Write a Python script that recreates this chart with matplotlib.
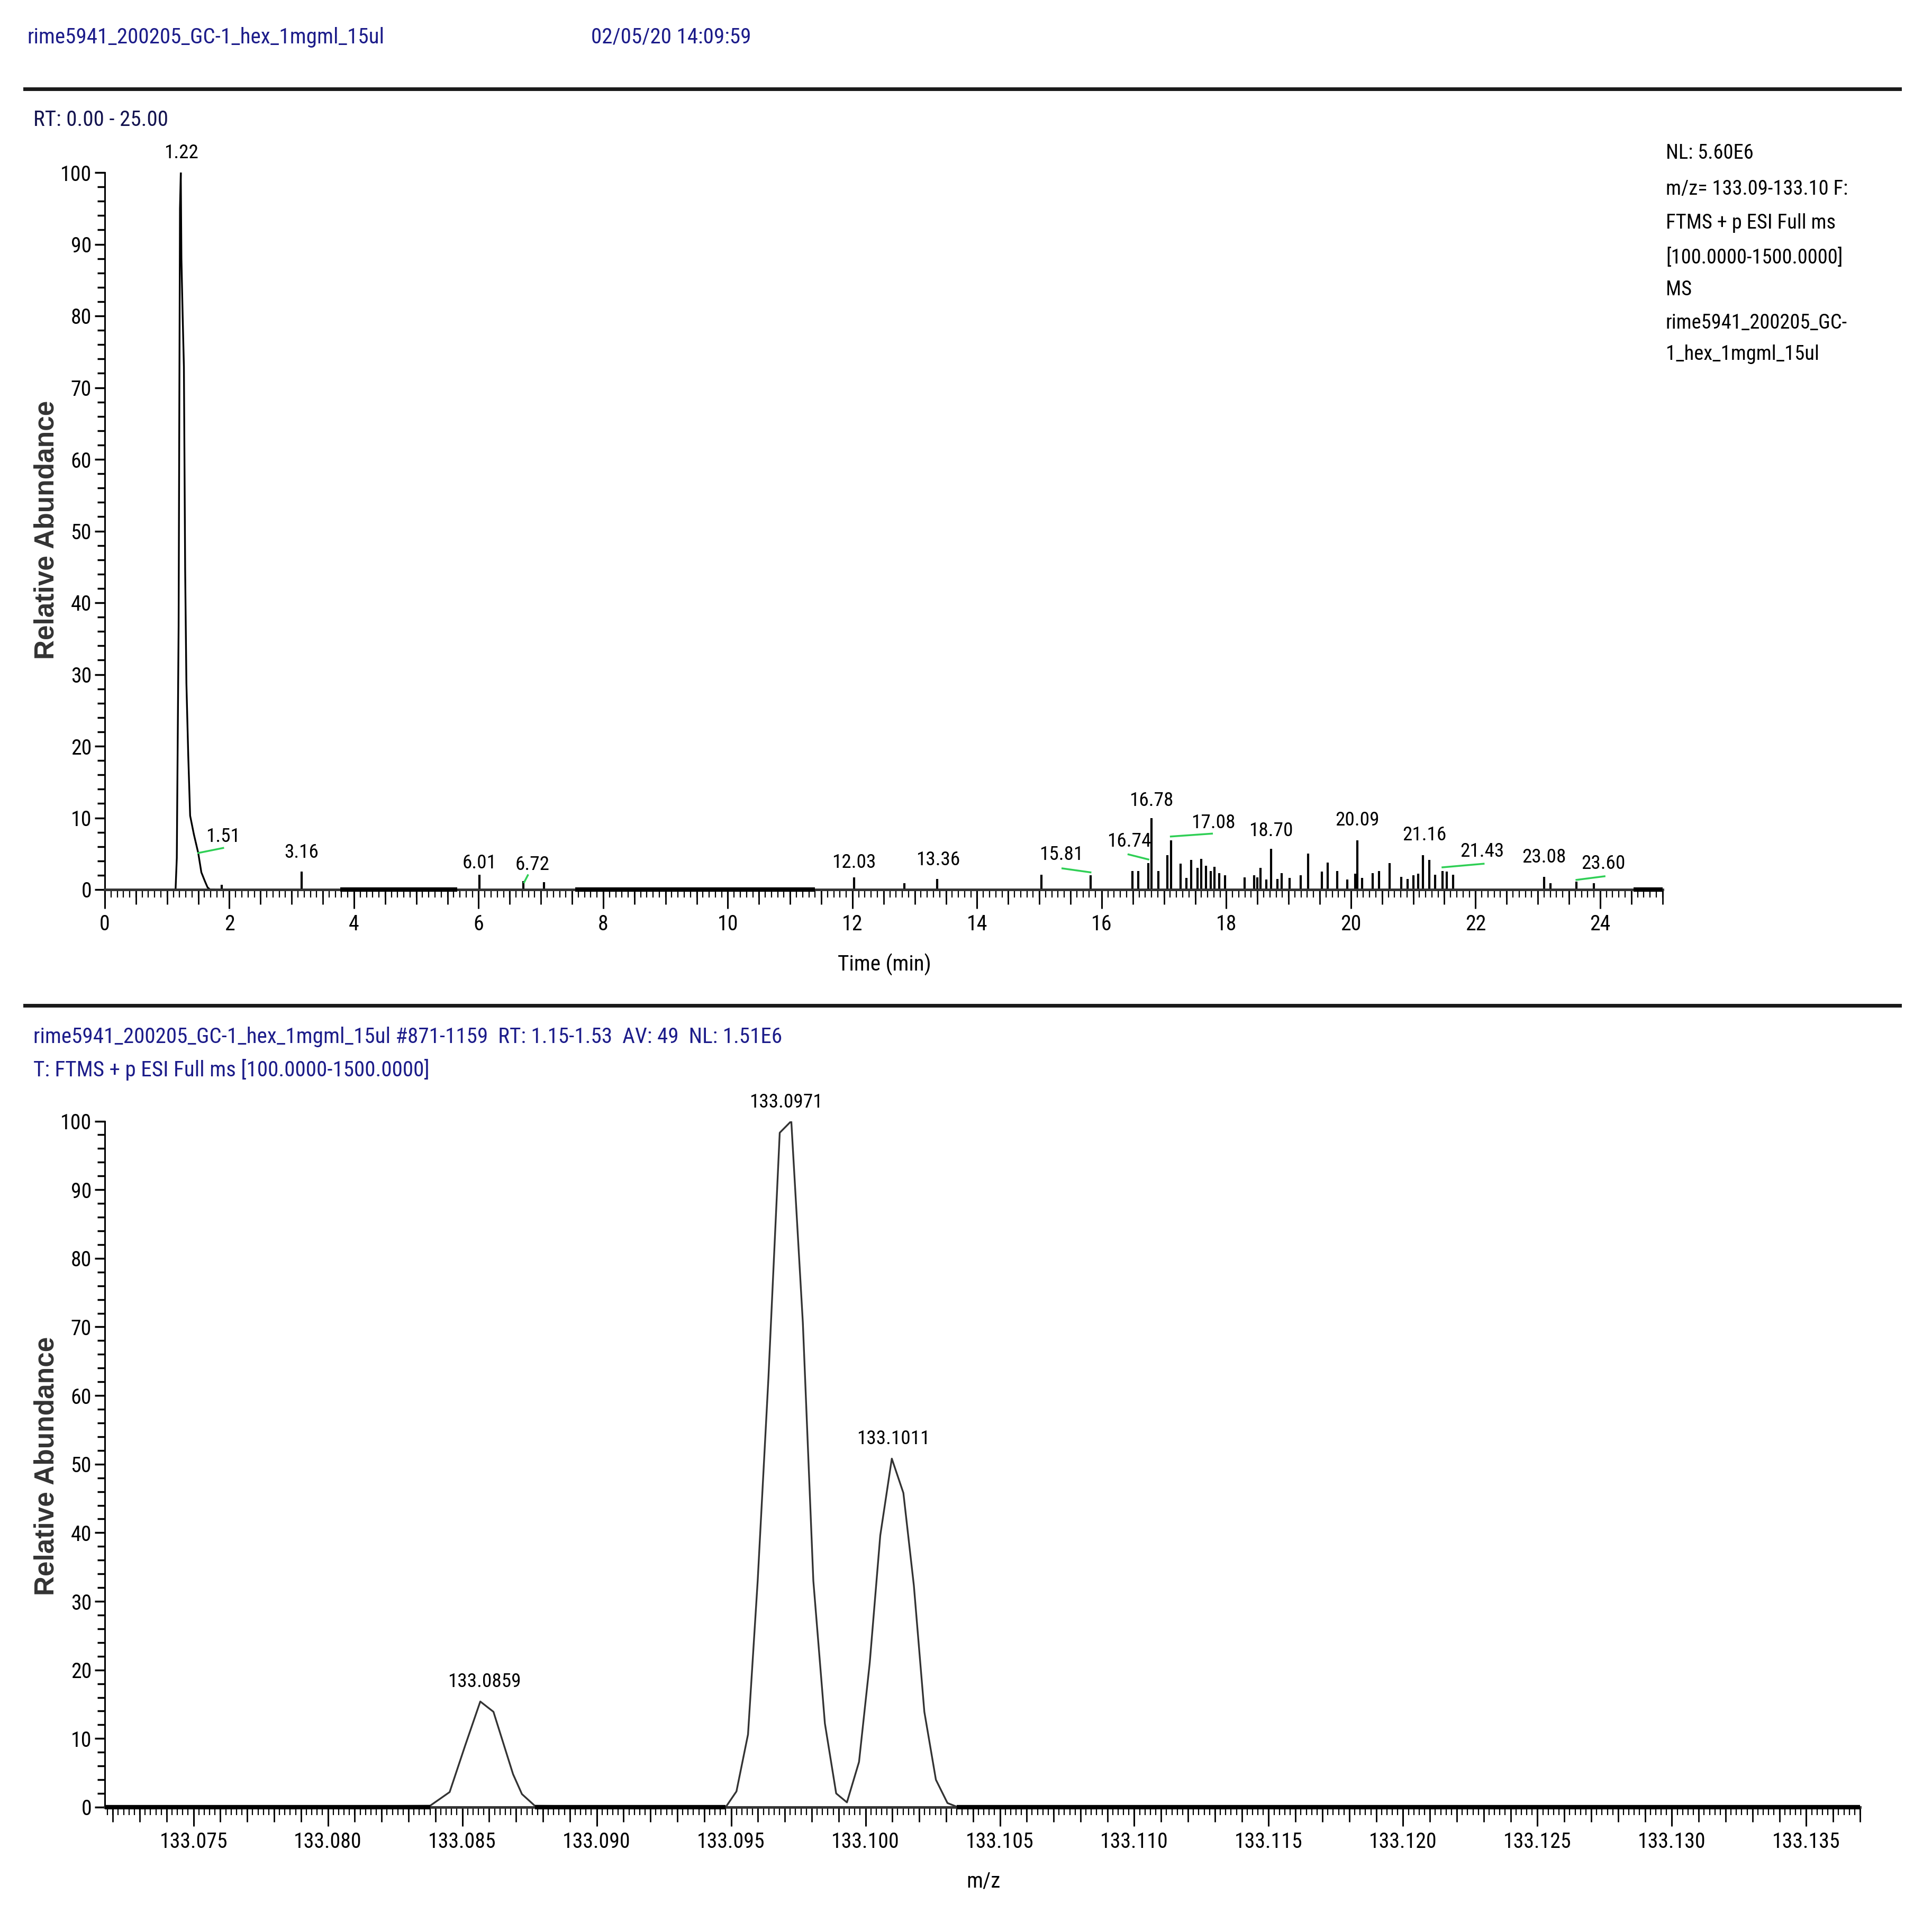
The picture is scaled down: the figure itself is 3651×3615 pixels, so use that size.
import matplotlib
matplotlib.use('Agg')
import matplotlib.pyplot as plt
from matplotlib import font_manager as fm
from matplotlib.lines import Line2D
from matplotlib.ticker import MultipleLocator, NullLocator, FormatStrFormatter

# pick a narrow face if one is installed, else plain Liberation Sans
cond = None
for name in ['Liberation Sans Narrow', 'Roboto Condensed', 'Open Sans Condensed',
             'Noto Sans', 'Roboto', 'Open Sans', 'Lato', 'Inter']:
    if any(f.name == name and f.stretch == 'condensed' for f in fm.fontManager.ttflist):
        cond = name
        break
if cond:
    plt.rcParams['font.family'] = [cond, 'Liberation Sans', 'DejaVu Sans']
    plt.rcParams['font.stretch'] = 'condensed'
else:
    plt.rcParams['font.family'] = ['Liberation Sans', 'DejaVu Sans']

# ---- chromatogram (top) ----
# main peak profile
rt_main = [1.10, 1.136, 1.156, 1.185, 1.207, 1.22, 1.23, 1.25, 1.27, 1.29, 1.31,
           1.34, 1.37, 1.43, 1.50, 1.55, 1.61, 1.65, 1.69, 1.75]
ab_main = [0, 0, 4.4, 36.7, 95, 100, 88, 80, 72.9, 44.6, 28.8,
           18.6, 10.3, 7.7, 5.1, 2.4, 1.1, 0.3, 0, 0]

# small spikes (retention time, relative abundance)
spike_rt = [1.88, 3.16, 6.01, 6.72, 7.05, 12.03, 12.83, 13.36, 15.03, 15.82,
            16.49, 16.59, 16.75, 16.80, 16.91, 17.05, 17.11, 17.27, 17.36, 17.44,
            17.54, 17.60, 17.67, 17.75, 17.81, 17.89, 17.98, 18.29, 18.45, 18.50,
            18.55, 18.64, 18.72, 18.82, 18.89, 19.02, 19.19, 19.31, 19.53, 19.63,
            19.78, 19.94, 20.07, 20.10, 20.18, 20.35, 20.45, 20.62, 20.81, 20.91,
            21.00, 21.08, 21.16, 21.26, 21.35, 21.47, 21.54, 21.64, 23.10, 23.20,
            23.62, 23.90]
spike_ab = [0.7, 2.5, 2.1, 1.2, 1.0, 1.7, 0.9, 1.5, 2.1, 2.0,
            2.6, 2.6, 3.7, 10.0, 2.6, 4.8, 6.9, 3.6, 1.6, 4.1,
            3.0, 4.3, 3.3, 2.6, 3.2, 2.3, 2.0, 1.7, 2.0, 1.7,
            3.0, 1.4, 5.7, 1.5, 2.3, 1.6, 2.0, 5.0, 2.5, 3.8,
            2.6, 1.4, 2.2, 6.9, 1.6, 2.3, 2.6, 3.7, 1.8, 1.5,
            2.0, 2.2, 4.8, 4.1, 2.1, 2.6, 2.5, 2.1, 1.8, 0.9,
            1.1, 0.9]

# dense noisy baseline stretches
base_start = [3.78, 7.55, 24.54]
base_end = [5.66, 11.40, 25.00]

# peak labels
rt_labels = ['1.22', '1.51', '3.16', '6.01', '6.72', '12.03', '13.36', '15.81', '16.74',
             '16.78', '17.08', '18.70', '20.09', '21.16', '21.43', '23.08', '23.60']
rt_label_x = [1.23, 1.90, 3.16, 6.01, 6.86, 12.02, 13.37, 15.35, 16.44,
              16.80, 17.79, 18.72, 20.10, 21.18, 22.11, 23.10, 24.05]
rt_label_y = [102.7, 7.4, 5.2, 3.7, 3.5, 3.8, 4.1, 4.9, 6.7,
              12.4, 9.3, 8.2, 9.7, 7.6, 5.3, 4.5, 3.6]

# green leader lines (from peak to label)
lead_x0 = [1.50, 6.73, 15.82, 16.75, 17.11, 21.47, 23.62]
lead_y0 = [5.1, 1.0, 2.4, 4.2, 7.4, 3.1, 1.35]
lead_x1 = [1.90, 6.79, 15.37, 16.43, 17.77, 22.13, 24.07]
lead_y1 = [5.8, 2.0, 2.95, 4.9, 7.8, 3.6, 1.85]

# ---- mass spectrum (bottom) ----
mz = [133.0717, 133.0838, 133.08453, 133.08510, 133.08567, 133.08616, 133.08689,
      133.08722, 133.0877, 133.0948, 133.09520, 133.09563, 133.09599, 133.09639,
      133.09681, 133.09724, 133.09767, 133.09806, 133.09849, 133.09891, 133.09931,
      133.09976, 133.10016, 133.10055, 133.10098, 133.10141, 133.10180, 133.10219,
      133.10262, 133.10305, 133.10344, 133.1370]
mz_ab = [0, 0.2, 2.2, 8.9, 15.4, 13.9, 4.8,
         1.9, 0.2, 0, 2.3, 10.6, 33.0, 62.6,
         98.3, 100, 70.6, 33.0, 12.2, 2.0, 0.7,
         6.6, 21.1, 39.6, 50.8, 45.8, 32.3, 13.9,
         4.0, 0.6, 0, 0]
mz_base_start = [133.0717, 133.0877, 133.1034]
mz_base_end = [133.0838, 133.0948, 133.1370]

mz_labels = ['133.0859', '133.0971', '133.1011']
mz_label_x = [133.08582, 133.09704, 133.10103]
mz_label_y = [18.3, 102.7, 53.7]

W, H = 3651, 3615
fig = plt.figure(figsize=(W / 100, H / 100), dpi=100)


def fx(px):
    return px / W


def fy(py):
    return 1 - py / H


HEAD_TXT = 'rime5941_200205_GC-1_hex_1mgml_15ul'

# scale font sizes so the header is as wide as in the reference (677 px)
probe = fig.text(0, 0, HEAD_TXT, fontsize=32)
s = 677 / probe.get_window_extent(renderer=fig.canvas.get_renderer()).width
probe.remove()

HEAD = '#1c1c8a'
GREEN = '#2fcf55'

# header
fig.text(fx(51), fy(70), HEAD_TXT, color=HEAD, fontsize=32 * s, va='center', ha='left')
fig.text(fx(1117), fy(70), '02/05/20 14:09:59', color=HEAD, fontsize=32 * s, va='center')
for yy in (168, 1900):
    fig.add_artist(Line2D([fx(47), fx(3590)], [fy(yy), fy(yy)], color='#1a1a1a', lw=5))

fig.text(fx(63), fy(226), 'RT: 0.00 - 25.00', color='#141450', fontsize=32 * s, va='center')

info = ['NL: 5.60E6', 'm/z= 133.09-133.10 F:', 'FTMS + p ESI Full ms',
        '[100.0000-1500.0000]', 'MS', 'rime5941_200205_GC-', '1_hex_1mgml_15ul']
info_y = [289, 358, 421, 487, 547, 610, 670]
for txt, yy in zip(info, info_y):
    fig.text(fx(3148), fy(yy), txt, fontsize=30 * s, va='center', color='black')

fig.text(fx(63), fy(1960),
         HEAD_TXT + ' #871-1159  RT: 1.15-1.53  AV: 49  NL: 1.51E6',
         color=HEAD, fontsize=32 * s, va='center')
fig.text(fx(63), fy(2021), 'T: FTMS + p ESI Full ms [100.0000-1500.0000]',
         color=HEAD, fontsize=32 * s, va='center')

ax1 = fig.add_axes([fx(198), fy(1681), fx(3141.6) - fx(198), fy(326) - fy(1681)])
ax2 = fig.add_axes([fx(198), fy(3415), fx(3515) - fx(198), fy(2118.5) - fy(3415)])

# top: chromatogram
ax1.plot(rt_main, ab_main, color='black', lw=2.4)
ax1.vlines(spike_rt, 0, spike_ab, color='black', lw=3)
ax1.hlines([0] * len(base_start), base_start, base_end, color='black', lw=6,
           zorder=3, clip_on=False)
for x0, y0, x1, y1 in zip(lead_x0, lead_y0, lead_x1, lead_y1):
    ax1.plot([x0, x1], [y0, y1], color=GREEN, lw=2.5, clip_on=False)
for txt, x, y in zip(rt_labels, rt_label_x, rt_label_y):
    ax1.text(x, y, txt, ha='center', va='center', fontsize=29 * s, clip_on=False)
ax1.set_xlim(0, 25)
ax1.set_ylim(0, 100)
ax1.xaxis.set_major_locator(MultipleLocator(2))
ax1.xaxis.set_minor_locator(MultipleLocator(0.5))
sec1 = ax1.secondary_xaxis('bottom')
sec1.xaxis.set_major_locator(MultipleLocator(0.1))

# bottom: spectrum
ax2.plot(mz, mz_ab, color='#333333', lw=2.4)
ax2.hlines([0] * len(mz_base_start), mz_base_start, mz_base_end, color='black', lw=6,
           zorder=3, clip_on=False)
for txt, x, y in zip(mz_labels, mz_label_x, mz_label_y):
    ax2.text(x, y, txt, ha='center', va='center', fontsize=29 * s, clip_on=False)
ax2.set_xlim(133.0717, 133.1370)
ax2.set_ylim(0, 100)
ax2.xaxis.set_major_locator(MultipleLocator(0.005))
ax2.xaxis.set_minor_locator(MultipleLocator(0.001))
ax2.xaxis.set_major_formatter(FormatStrFormatter('%.3f'))
sec2 = ax2.secondary_xaxis('bottom')
sec2.xaxis.set_major_locator(MultipleLocator(0.0002))

for ax, sec in ((ax1, sec1), (ax2, sec2)):
    ax.spines['top'].set_visible(False)
    ax.spines['right'].set_visible(False)
    ax.spines['bottom'].set_color('#333333')
    ax.spines['bottom'].set_linewidth(3.5)
    ax.spines['left'].set_linewidth(2.2)
    ax.yaxis.set_major_locator(MultipleLocator(10))
    ax.yaxis.set_minor_locator(MultipleLocator(2))
    ax.tick_params(axis='x', which='major', length=26, width=2.2, pad=7, labelsize=31 * s)
    ax.tick_params(axis='x', which='minor', length=20, width=2)
    ax.tick_params(axis='y', which='major', length=14, width=2.5, pad=4, labelsize=31 * s)
    ax.tick_params(axis='y', which='minor', length=10, width=2.5)
    sec.spines['bottom'].set_visible(False)
    sec.xaxis.set_minor_locator(NullLocator())
    sec.tick_params(axis='x', which='major', length=11, width=1.6, labelbottom=False)

for yy in (1001, 2770):
    fig.text(fx(88), fy(yy), 'Relative Abundance', rotation=90, ha='center', va='center',
             fontsize=37, color='#333333', fontweight='bold', fontstretch='normal',
             family=['Liberation Sans', 'DejaVu Sans'])
fig.text(fx(1671), fy(1823), 'Time (min)', ha='center', va='center', fontsize=32 * s)
fig.text(fx(1858), fy(3555), 'm/z', ha='center', va='center', fontsize=32 * s)

fig.savefig('out.png', dpi=100)
